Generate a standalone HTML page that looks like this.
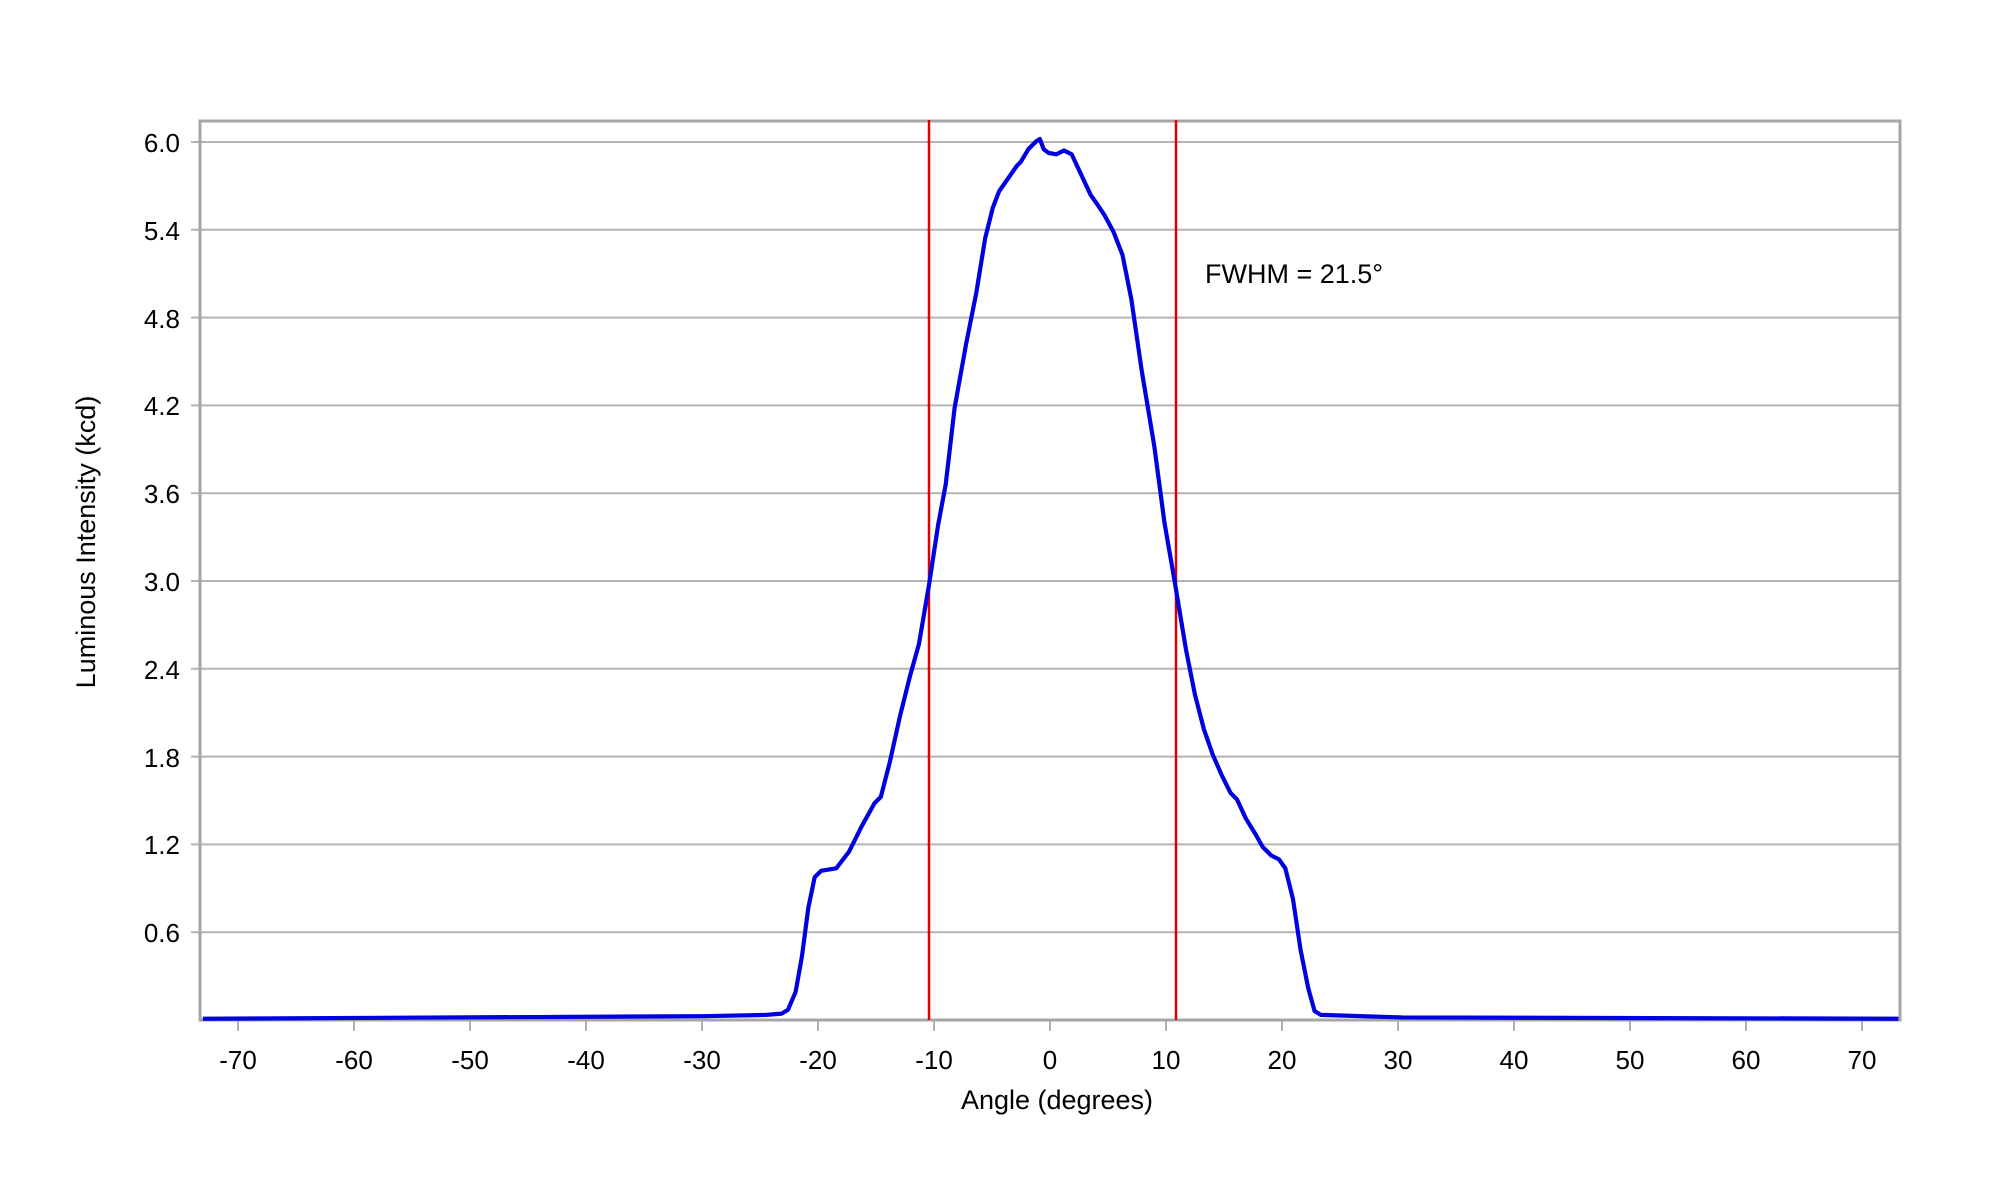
<!DOCTYPE html>
<html><head><meta charset="utf-8"><style>body{margin:0;background:#fff}svg{display:block}text{font-family:"Liberation Sans",Arial,sans-serif;fill:#000}</style></head>
<body>
<svg width="2000" height="1200" viewBox="0 0 2000 1200" xmlns="http://www.w3.org/2000/svg">
<g stroke="#b3b3b3" stroke-width="2">
<line x1="191" x2="1900" y1="142" y2="142"/>
<line x1="191" x2="1900" y1="229.8" y2="229.8"/>
<line x1="191" x2="1900" y1="317.6" y2="317.6"/>
<line x1="191" x2="1900" y1="405.4" y2="405.4"/>
<line x1="191" x2="1900" y1="493.2" y2="493.2"/>
<line x1="191" x2="1900" y1="581" y2="581"/>
<line x1="191" x2="1900" y1="668.8" y2="668.8"/>
<line x1="191" x2="1900" y1="756.6" y2="756.6"/>
<line x1="191" x2="1900" y1="844.4" y2="844.4"/>
<line x1="191" x2="1900" y1="932.2" y2="932.2"/>
</g>
<g stroke="#b3b3b3" stroke-width="2">
<line x1="238" x2="238" y1="1020" y2="1031"/><line x1="354" x2="354" y1="1020" y2="1031"/><line x1="470" x2="470" y1="1020" y2="1031"/><line x1="586" x2="586" y1="1020" y2="1031"/><line x1="702" x2="702" y1="1020" y2="1031"/><line x1="818" x2="818" y1="1020" y2="1031"/><line x1="934" x2="934" y1="1020" y2="1031"/><line x1="1050" x2="1050" y1="1020" y2="1031"/><line x1="1166" x2="1166" y1="1020" y2="1031"/><line x1="1282" x2="1282" y1="1020" y2="1031"/><line x1="1398" x2="1398" y1="1020" y2="1031"/><line x1="1514" x2="1514" y1="1020" y2="1031"/><line x1="1630" x2="1630" y1="1020" y2="1031"/><line x1="1746" x2="1746" y1="1020" y2="1031"/><line x1="1862" x2="1862" y1="1020" y2="1031"/>
</g>
<rect x="200" y="121" width="1700" height="899" fill="none" stroke="#a6a6a6" stroke-width="3"/>
<line x1="929" x2="929" y1="120" y2="1020" stroke="#e00000" stroke-width="2.5"/>
<line x1="1176" x2="1176" y1="120" y2="1020" stroke="#e00000" stroke-width="2.5"/>
<g transform="translate(1050,1020) scale(1.272,1.275) translate(-823,-800)">
<polyline fill="none" stroke="#0000e0" stroke-width="3.3" stroke-linejoin="round" points="157,799 550,797 600,796 612,795 617,792 623,778 628,750 633,712 638,688 643,683 655,681 665,668 675,648 685,630 690,625 697,598 705,562 713,530 720,505 728,458 735,412 741,380 748,320 757,270 765,230 772,187 778,163 783,150 790,140 797,130 800,127 806,117 812,111 815,109 818,117 822,120 828,121 834,118 840,121 848,138 855,153 860,160 866,169 873,182 880,200 887,235 895,290 905,350 913,410 921,456 930,510 937,545 944,572 951,592 958,608 965,622 970,627 977,642 985,655 990,664 997,671 1003,674 1008,681 1014,705 1020,745 1026,775 1031,793 1036,796 1100,798 1490,799"/>
</g>
<g font-size="26" text-anchor="end">
<text x="180" y="152">6.0</text><text x="180" y="240">5.4</text><text x="180" y="328">4.8</text><text x="180" y="415">4.2</text><text x="180" y="503">3.6</text><text x="180" y="591">3.0</text><text x="180" y="679">2.4</text><text x="180" y="767">1.8</text><text x="180" y="854">1.2</text><text x="180" y="942">0.6</text>
</g>
<g font-size="26" text-anchor="middle">
<text x="238" y="1069">-70</text><text x="354" y="1069">-60</text><text x="470" y="1069">-50</text><text x="586" y="1069">-40</text><text x="702" y="1069">-30</text><text x="818" y="1069">-20</text><text x="934" y="1069">-10</text><text x="1050" y="1069">0</text><text x="1166" y="1069">10</text><text x="1282" y="1069">20</text><text x="1398" y="1069">30</text><text x="1514" y="1069">40</text><text x="1630" y="1069">50</text><text x="1746" y="1069">60</text><text x="1862" y="1069">70</text>
</g>
<text x="1057" y="1109" font-size="27" text-anchor="middle">Angle (degrees)</text>
<text transform="translate(95,542) rotate(-90)" font-size="27" text-anchor="middle">Luminous Intensity (kcd)</text>
<text x="1205" y="283" font-size="27">FWHM = 21.5°</text>
</svg>
</body></html>
